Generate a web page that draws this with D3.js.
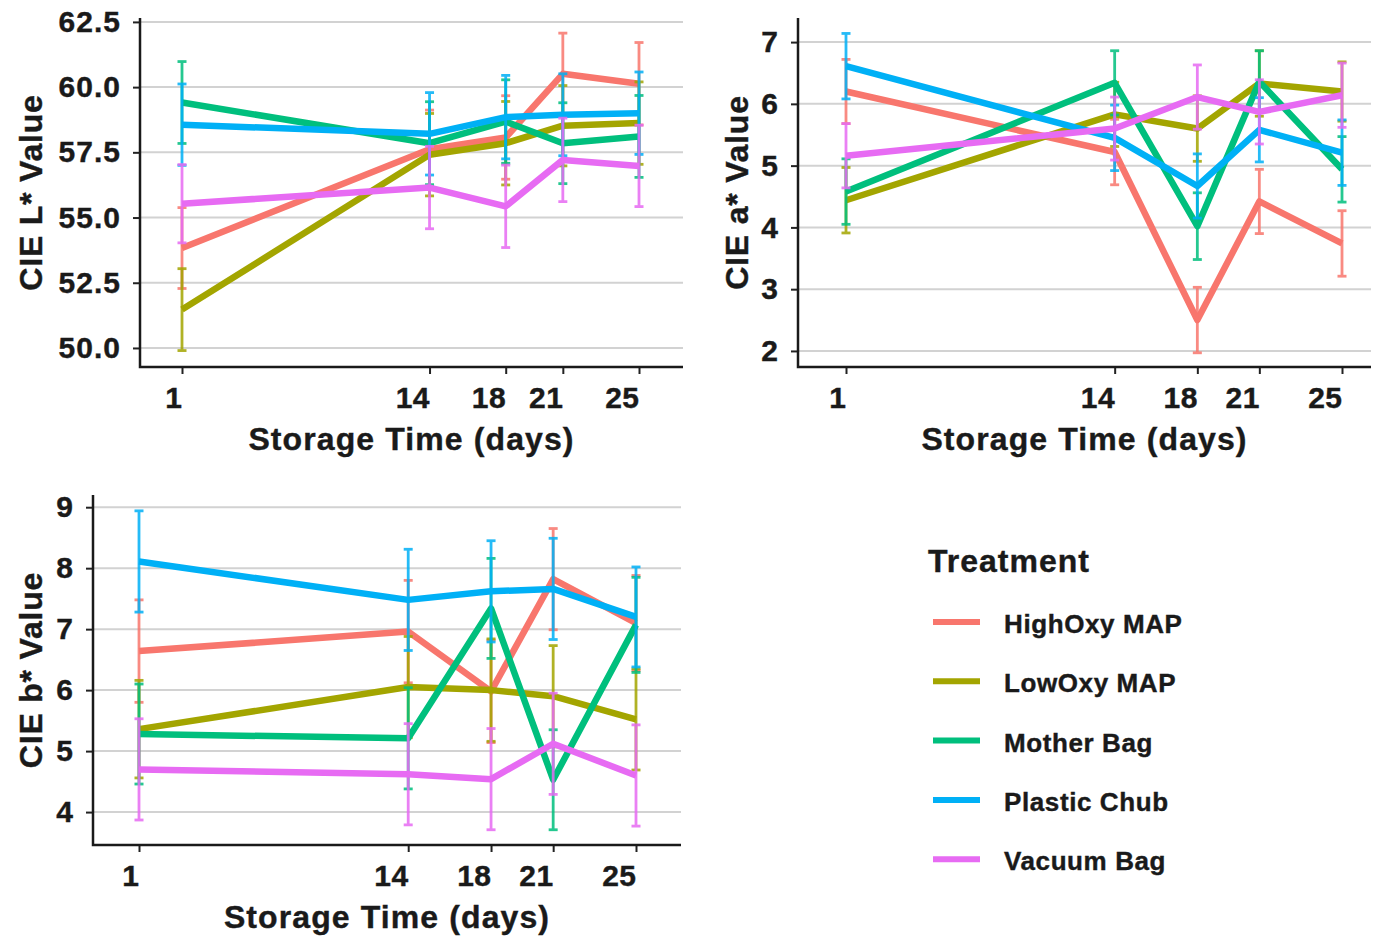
<!DOCTYPE html>
<html>
<head>
<meta charset="utf-8">
<script src="https://cdn.jsdelivr.net/npm/d3@7"></script>
<style>
  body { margin: 0; background: #fff; }
  text { font-family: "Liberation Sans", Arial, sans-serif; font-weight: bold; fill: #1a1a1a;
         stroke: #1a1a1a; stroke-width: 0.4px; }
</style>
</head>
<body>
<svg id="chart" width="1373" height="938"></svg>
<script>
// storage days and treatments
var days = [1, 14, 18, 21, 25];
var treatments = ["HighOxy MAP", "LowOxy MAP", "Mother Bag", "Plastic Chub", "Vacuum Bag"];
var colors = ["#F8766D", "#A3A500", "#00BF7D", "#00B0F6", "#E76BF3"];

// CIE L* means / std errors, one row per treatment
var lMeans = [
  [53.83, 57.62, 58.07, 60.51, 60.13],
  [51.47, 57.41, 57.85, 58.52, 58.62],
  [59.41, 57.85, 58.68, 57.85, 58.11],
  [58.56, 58.21, 58.85, 58.94, 59.00],
  [55.53, 56.15, 55.43, 57.21, 56.98]
];
var lSE = [
  [1.55, 1.50, 1.60, 1.56, 1.58],
  [1.57, 1.58, 1.60, 1.54, 1.58],
  [1.57, 1.59, 1.60, 1.55, 1.57],
  [1.56, 1.58, 1.60, 1.57, 1.58],
  [1.50, 1.58, 1.58, 1.60, 1.56]
];
var lTicks = [50, 52.5, 55, 57.5, 60, 62.5];

// CIE a*
var aMeans = [
  [6.20, 5.22, 2.50, 4.42, 3.74],
  [4.44, 5.83, 5.60, 6.33, 6.20],
  [4.58, 6.34, 4.02, 6.36, 4.94],
  [6.61, 5.45, 4.67, 5.58, 5.21],
  [5.16, 5.60, 6.11, 5.87, 6.14]
];
var aSE = [
  [0.52, 0.53, 0.53, 0.52, 0.53],
  [0.53, 0.52, 0.53, 0.53, 0.48],
  [0.53, 0.52, 0.54, 0.50, 0.53],
  [0.53, 0.53, 0.52, 0.52, 0.53],
  [0.52, 0.51, 0.52, 0.52, 0.52]
];
var aTicks = [2, 3, 4, 5, 6, 7];

// CIE b*
var bMeans = [
  [6.64, 6.96, 5.98, 7.82, 7.10],
  [5.36, 6.05, 6.00, 5.90, 5.52],
  [5.28, 5.21, 7.34, 4.53, 7.07],
  [8.11, 7.48, 7.62, 7.66, 7.20],
  [4.70, 4.62, 4.54, 5.12, 4.60]
];
var bSE = [
  [0.84, 0.84, 0.84, 0.83, 0.78],
  [0.80, 0.83, 0.84, 0.83, 0.83],
  [0.82, 0.83, 0.82, 0.82, 0.78],
  [0.83, 0.83, 0.83, 0.83, 0.82],
  [0.83, 0.83, 0.83, 0.83, 0.83]
];
var bTicks = [4, 5, 6, 7, 8, 9];

var svg = d3.select("#chart");

var panels = [
  {means: lMeans, se: lSE, ticks: lTicks, fmt: d3.format(".1f"), title: "CIE L* Value",
   left: 140, right: 683, top: 18, bottom: 367, yDom: [49.27, 62.65], xr: [182, 639], titleX: 42},
  {means: aMeans, se: aSE, ticks: aTicks, fmt: d3.format("d"), title: "CIE a* Value",
   left: 798, right: 1371, top: 18, bottom: 367, yDom: [1.74, 7.39], xr: [846, 1342], titleX: 748},
  {means: bMeans, se: bSE, ticks: bTicks, fmt: d3.format("d"), title: "CIE b* Value",
   left: 93, right: 681, top: 495, bottom: 845, yDom: [3.46, 9.2], xr: [139, 636], titleX: 42}
];

panels.forEach(function(p){
  var x = d3.scaleLinear().domain([1, 25]).range(p.xr);
  var y = d3.scaleLinear().domain(p.yDom).range([p.bottom, p.top]);
  var g = svg.append("g");

  // grid
  g.selectAll("line.grid").data(p.ticks).enter().append("line")
    .attr("x1", p.left).attr("x2", p.right)
    .attr("y1", function(d){ return y(d); }).attr("y2", function(d){ return y(d); })
    .attr("stroke", "#d2d2d2").attr("stroke-width", 2);

  // y axis
  var ya = g.append("g").attr("transform", "translate(" + p.left + ",0)")
    .call(d3.axisLeft(y).tickValues(p.ticks).tickFormat(p.fmt).tickSize(7).tickPadding(12));
  ya.select(".domain").remove();
  ya.selectAll(".tick line").attr("stroke", "#222").attr("stroke-width", 2);
  ya.selectAll(".tick text").attr("font-size", 30).attr("fill", "#1a1a1a")
    .style("font-family", "'Liberation Sans', Arial, sans-serif").style("font-weight", "bold")
    .style("letter-spacing", "1px");

  // x axis, labels sit right-aligned on the tick
  var xa = g.append("g").attr("transform", "translate(0," + p.bottom + ")")
    .call(d3.axisBottom(x).tickValues(days).tickFormat(d3.format("d")).tickSize(7).tickPadding(13));
  xa.select(".domain").remove();
  xa.selectAll(".tick line").attr("stroke", "#222").attr("stroke-width", 2);
  xa.selectAll(".tick text").attr("font-size", 30).attr("fill", "#1a1a1a")
    .attr("text-anchor", "end").attr("dx", 0)
    .style("font-family", "'Liberation Sans', Arial, sans-serif").style("font-weight", "bold")
    .style("letter-spacing", "0.5px");

  // axis lines
  g.append("path")
    .attr("d", "M" + p.left + "," + p.top + "V" + p.bottom + "H" + p.right)
    .attr("fill", "none").attr("stroke", "#1a1a1a").attr("stroke-width", 2.5);

  // series
  var line = d3.line().x(function(d, i){ return x(days[i]); }).y(function(d){ return y(d); });
  p.means.forEach(function(m, k){
    g.append("path").datum(m).attr("d", line)
      .attr("fill", "none").attr("stroke", colors[k]).attr("stroke-width", 6.5)
      .attr("stroke-linejoin", "round");
    var eb = g.append("g").attr("stroke", colors[k]).attr("stroke-width", 2.8).attr("opacity", 0.85);
    m.forEach(function(v, i){
      var xx = x(days[i]), lo = y(v - p.se[k][i]), hi = y(v + p.se[k][i]);
      eb.append("line").attr("x1", xx).attr("x2", xx).attr("y1", lo).attr("y2", hi);
      eb.append("line").attr("x1", xx - 4.5).attr("x2", xx + 4.5).attr("y1", lo).attr("y2", lo);
      eb.append("line").attr("x1", xx - 4.5).attr("x2", xx + 4.5).attr("y1", hi).attr("y2", hi);
    });
  });

  // titles
  g.append("text").attr("x", (p.left + p.right) / 2).attr("y", p.bottom + 83)
    .attr("text-anchor", "middle").attr("font-size", 32).style("letter-spacing", "1.1px")
    .text("Storage Time (days)");
  g.append("text")
    .attr("transform", "translate(" + p.titleX + "," + ((p.top + p.bottom) / 2) + ") rotate(-90)")
    .attr("text-anchor", "middle").attr("font-size", 32).style("letter-spacing", "0.8px")
    .text(p.title);
});

// legend
var lg = svg.append("g");
lg.append("text").attr("x", 928).attr("y", 572).attr("font-size", 32).style("letter-spacing", "1px")
  .text("Treatment");
treatments.forEach(function(t, k){
  var yy = 622 + k * 59.3;
  lg.append("line").attr("x1", 933).attr("x2", 980).attr("y1", yy).attr("y2", yy)
    .attr("stroke", colors[k]).attr("stroke-width", 6);
  lg.append("text").attr("x", 1004).attr("y", yy + 11).attr("font-size", 26)
    .style("letter-spacing", "0.6px").text(t);
});
</script>
</body>
</html>
